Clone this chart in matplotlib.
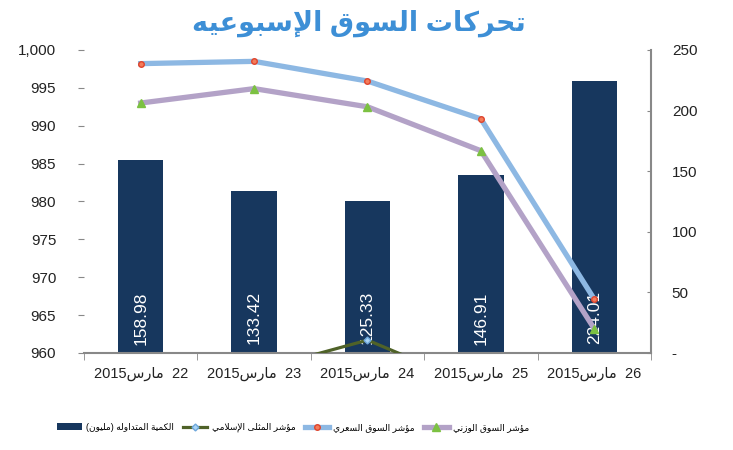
import matplotlib
matplotlib.use("Agg")
import matplotlib.pyplot as plt
from matplotlib.ticker import FuncFormatter, FixedLocator

# data
days = ["22", "23", "24", "25", "26"]
volume = [158.98, 133.42, 125.33, 146.91, 224.01]          # right axis (million)
price_index = [998.2, 998.5, 995.9, 990.9, 967.1]          # left axis
weighted_index = [993.0, 994.9, 992.5, 986.7, 963.2]
islamic_index = [954.0, 957.6, 961.7, 955.4, 950.0]

title_txt = "تحركات السوق الإسبوعيه"
month_txt = "مارس"
year_txt = "2015"
lbl_volume = "الكمية المتداوله (مليون)"
lbl_islamic = "مؤشر المثلى الإسلامي"
lbl_price = "مؤشر السوق السعري"
lbl_weighted = "مؤشر السوق الوزني"

# --- minimal arabic shaping (matplotlib has no bidi / joining support) ---
# char -> (isolated, final, initial, medial); None = does not join to the next letter
FORMS = {
    "ا": (0xFE8D, 0xFE8E, None, None),
    "إ": (0xFE87, 0xFE88, None, None),
    "أ": (0xFE83, 0xFE84, None, None),
    "ؤ": (0xFE85, 0xFE86, None, None),
    "ب": (0xFE8F, 0xFE90, 0xFE91, 0xFE92),
    "ة": (0xFE93, 0xFE94, None, None),
    "ت": (0xFE95, 0xFE96, 0xFE97, 0xFE98),
    "ث": (0xFE99, 0xFE9A, 0xFE9B, 0xFE9C),
    "ح": (0xFEA1, 0xFEA2, 0xFEA3, 0xFEA4),
    "د": (0xFEA9, 0xFEAA, None, None),
    "ر": (0xFEAD, 0xFEAE, None, None),
    "ز": (0xFEAF, 0xFEB0, None, None),
    "س": (0xFEB1, 0xFEB2, 0xFEB3, 0xFEB4),
    "ش": (0xFEB5, 0xFEB6, 0xFEB7, 0xFEB8),
    "ع": (0xFEC9, 0xFECA, 0xFECB, 0xFECC),
    "ق": (0xFED5, 0xFED6, 0xFED7, 0xFED8),
    "ك": (0xFED9, 0xFEDA, 0xFEDB, 0xFEDC),
    "ل": (0xFEDD, 0xFEDE, 0xFEDF, 0xFEE0),
    "م": (0xFEE1, 0xFEE2, 0xFEE3, 0xFEE4),
    "ن": (0xFEE5, 0xFEE6, 0xFEE7, 0xFEE8),
    "ه": (0xFEE9, 0xFEEA, 0xFEEB, 0xFEEC),
    "و": (0xFEED, 0xFEEE, None, None),
    "ى": (0xFEEF, 0xFEF0, None, None),
    "ي": (0xFEF1, 0xFEF2, 0xFEF3, 0xFEF4),
}
LAM_ALEF = {"ا": (0xFEFB, 0xFEFC), "إ": (0xFEF9, 0xFEFA), "أ": (0xFEF7, 0xFEF8)}


def shape(text):
    # join letters then reverse into visual (left to right) order
    units = []
    i = 0
    while i < len(text):
        c = text[i]
        if c == "ل" and i + 1 < len(text) and text[i + 1] in LAM_ALEF:
            units.append(("LA", text[i + 1]))
            i += 2
        else:
            units.append(("C", c))
            i += 1

    def joins_next(u):
        return u[0] == "C" and u[1] in FORMS and FORMS[u[1]][2] is not None

    def is_letter(u):
        return u[0] == "LA" or u[1] in FORMS

    out = []
    for k, u in enumerate(units):
        prev_j = k > 0 and joins_next(units[k - 1]) and is_letter(u)
        if u[0] == "LA":
            iso, fin = LAM_ALEF[u[1]]
            out.append(chr(fin if prev_j else iso))
            continue
        c = u[1]
        if c not in FORMS:
            out.append(c)
            continue
        iso, fin, ini, med = FORMS[c]
        next_j = ini is not None and k + 1 < len(units) and is_letter(units[k + 1])
        if prev_j and next_j:
            out.append(chr(med))
        elif prev_j:
            out.append(chr(fin))
        elif next_j:
            out.append(chr(ini))
        else:
            out.append(chr(iso))
    vis = "".join(reversed(out))
    return vis.translate(str.maketrans("()", ")("))


plt.rcParams["font.family"] = ["Liberation Sans", "DejaVu Sans"]

fig = plt.figure(figsize=(7.33, 4.5), dpi=100)
ax = fig.add_axes([0.1146, 0.2156, 0.7735, 0.6733])
ax2 = ax.twinx()

x = list(range(len(days)))

# bars on the right-hand axis
bars = ax.bar(x, volume, width=0.4, color="#17375e", zorder=2,
              label=shape(lbl_volume))
for xi, v in zip(x, volume):
    ax.text(xi, 29, f"{v:.2f}", rotation=90, ha="center", va="center",
            color="white", fontsize=12.5, zorder=3)

ax.set_xlim(-0.5, 4.5)
ax.set_ylim(0, 250)
ax.yaxis.tick_right()
ax.yaxis.set_major_locator(FixedLocator([0, 50, 100, 150, 200, 250]))
ax.yaxis.set_major_formatter(FuncFormatter(lambda v, p: "-" if v == 0 else f"{v:.0f}"))
ax.tick_params(axis="y", direction="in", length=3, pad=15, colors="#888888",
               labelcolor="#222222", labelsize=11)

ax.set_xticks([i + 0.5 for i in range(-1, 5)], minor=True)
ax.set_xticks(x)
ax.set_xticklabels([year_txt + shape(month_txt) + "  " + d for d in days],
                   fontsize=10.5, color="#222222")
ax.tick_params(axis="x", which="major", length=0, pad=10)
ax.tick_params(axis="x", which="minor", length=5, direction="out", color="#888888")

for s in ["top", "left"]:
    ax.spines[s].set_visible(False)
ax.spines["right"].set_color("#888888")
ax.spines["bottom"].set_color("#888888")
ax.spines["right"].set_linewidth(1.5)
ax.spines["bottom"].set_linewidth(1.5)

# index lines on the left-hand axis
l_isl, = ax2.plot(x, islamic_index, color="#4f6228", lw=2.3, marker="D", ms=3.5,
                  mfc="#a9d4f5", mec="#6fa8dc", label=shape(lbl_islamic))
l_price, = ax2.plot(x, price_index, color="#8db8e3", lw=3.8, marker="o", ms=4,
                    mfc="#f47c5a", mec="#e0442c", label=shape(lbl_price))
l_wt, = ax2.plot(x, weighted_index, color="#b3a2c7", lw=3.8, marker="^", ms=6,
                 mfc="#7cc142", mec="#7cc142", label=shape(lbl_weighted))

ax2.set_ylim(960, 1000)
ax2.yaxis.tick_left()
ax2.yaxis.set_major_locator(FixedLocator(list(range(960, 1001, 5))))
ax2.yaxis.set_major_formatter(FuncFormatter(lambda v, p: f"{v:,.0f}"))
ax2.tick_params(axis="y", direction="out", length=4, pad=16, colors="#888888",
                labelcolor="#222222", labelsize=11)
for s in ax2.spines.values():
    s.set_visible(False)

fig.text(0.489, 0.948, shape(title_txt), ha="center", va="center", fontsize=19.5,
         fontweight="bold", color="#3d8fd6")

fig.legend([bars, l_isl, l_price, l_wt],
           [shape(lbl_volume), shape(lbl_islamic), shape(lbl_price), shape(lbl_weighted)],
           loc="center", bbox_to_anchor=(0.40, 0.05), ncol=4, frameon=False,
           fontsize=6.5, handlelength=2.7, columnspacing=1.0, handletextpad=0.5)

fig.savefig("out.png", dpi=100)
